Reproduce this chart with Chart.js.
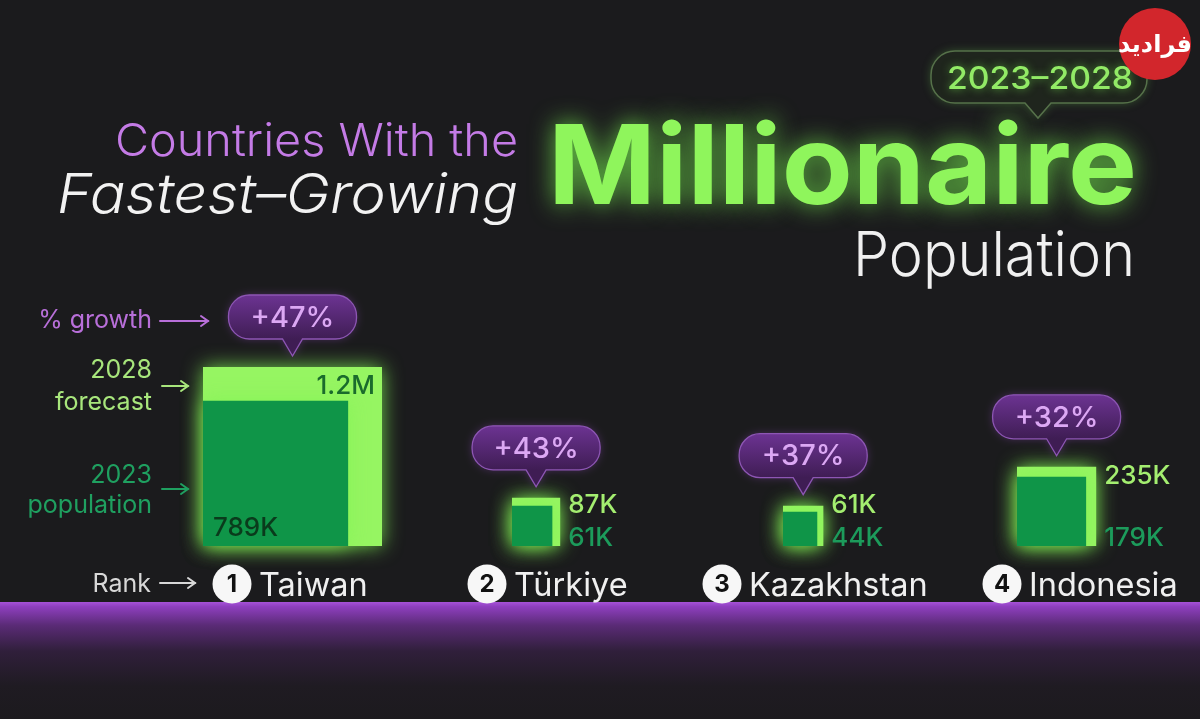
<!DOCTYPE html>
<html><head><meta charset="utf-8">
<script src="https://cdn.jsdelivr.net/npm/chart.js@4.4.1/dist/chart.umd.min.js"></script>
<style>
html,body{margin:0;padding:0;background:#1b1b1d;overflow:hidden}
#wrap{position:relative;width:1200px;height:719px}
canvas{display:block}
</style></head>
<body><div id="wrap"><canvas id="c" width="1200" height="719"></canvas></div>
<script>
// ---------- DATA ----------
const countries = ['Taiwan', 'Türkiye', 'Kazakhstan', 'Indonesia'];
const ranks = [1, 2, 3, 4];
const pop2023 = [789, 61, 44, 179];          // thousands of millionaires, 2023
const forecast2028 = [1200, 87, 61, 235];    // thousands, 2028 forecast
const growthPct = [47, 43, 37, 32];          // % growth 2023-2028
const label2023 = ['789K', '61K', '44K', '179K'];
const label2028 = ['1.2M', '87K', '61K', '235K'];

// ---------- LAYOUT (x-axis units) ----------
const squareLeft = [203, 512, 783, 1017];
const rankX = [232, 487, 722, 1002];
const SIDE_PER_SQRT = 179 / Math.sqrt(1200);   // square area proportional to value

const FONT = 'Inter, "Noto Sans", sans-serif';
const side = v => SIDE_PER_SQRT * Math.sqrt(v);
const squarePoly = (l, s) => [{x: l, y: 0}, {x: l, y: s}, {x: l + s, y: s}, {x: l + s, y: 0}, {x: l, y: 0}];

const datasets = [];
countries.forEach((c, i) => {
  datasets.push({
    label: c + ' 2028', data: squarePoly(squareLeft[i], side(forecast2028[i])),
    backgroundColor: '#96f562', borderColor: 'rgba(0,0,0,0)', borderWidth: 0,
    fill: 'shape', pointRadius: 0, tension: 0, order: 2, clip: false
  });
  datasets.push({
    label: c + ' 2023', data: squarePoly(squareLeft[i], side(pop2023[i])),
    backgroundColor: '#0f9548', borderColor: 'rgba(0,0,0,0)', borderWidth: 0,
    fill: 'shape', pointRadius: 0, tension: 0, order: 1, clip: false
  });
});

// ---------- helpers ----------
function fitText(ctx, text, x0, x1, baseline, font, color) {
  ctx.save();
  ctx.font = font;
  ctx.fillStyle = color;
  ctx.textBaseline = 'alphabetic';
  ctx.textAlign = 'left';
  const w = ctx.measureText(text).width;
  const sx = (x1 - x0) / w;
  ctx.translate(x0, baseline);
  ctx.scale(sx, 1);
  ctx.fillText(text, 0, 0);
  ctx.restore();
}
function text(ctx, t, x, y, font, color, align, base) {
  ctx.font = font; ctx.fillStyle = color;
  ctx.textAlign = align || 'left'; ctx.textBaseline = base || 'alphabetic';
  ctx.fillText(t, x, y);
}
function bubblePath(ctx, x0, y0, x1, y1, r, tipX, tipY, tw) {
  ctx.beginPath();
  ctx.moveTo(x0 + r, y0);
  ctx.lineTo(x1 - r, y0);
  ctx.arcTo(x1, y0, x1, y0 + r, r);
  ctx.lineTo(x1, y1 - r);
  ctx.arcTo(x1, y1, x1 - r, y1, r);
  ctx.lineTo(tipX + tw, y1);
  ctx.lineTo(tipX, tipY);
  ctx.lineTo(tipX - tw, y1);
  ctx.lineTo(x0 + r, y1);
  ctx.arcTo(x0, y1, x0, y1 - r, r);
  ctx.lineTo(x0, y0 + r);
  ctx.arcTo(x0, y0, x0 + r, y0, r);
  ctx.closePath();
}
function arrow(ctx, x1, x2, y, color) {
  ctx.save();
  ctx.strokeStyle = color; ctx.lineWidth = 2; ctx.lineCap = 'round';
  ctx.beginPath(); ctx.moveTo(x1, y); ctx.lineTo(x2, y); ctx.stroke();
  ctx.beginPath(); ctx.moveTo(x2 - 7, y - 5); ctx.lineTo(x2, y); ctx.lineTo(x2 - 7, y + 5); ctx.stroke();
  ctx.restore();
}

// ---------- plugins ----------
const bgPlugin = {
  id: 'bg',
  beforeDraw(chart) {
    const ctx = chart.ctx;
    ctx.save();
    ctx.fillStyle = '#1b1b1d';
    ctx.fillRect(0, 0, chart.width, chart.height);
    const g = ctx.createLinearGradient(0, 602, 0, 719);
    g.addColorStop(0, '#a652d8');
    g.addColorStop(0.04, '#8e3fbe');
    g.addColorStop(0.2, '#5a2b76');
    g.addColorStop(0.42, '#301f3b');
    g.addColorStop(0.72, '#1f1b22');
    g.addColorStop(1, '#1c1a1e');
    ctx.fillStyle = g;
    ctx.fillRect(0, 602, chart.width, 117);
    ctx.restore();
  }
};

// green neon glow around the squares
const glowPlugin = {
  id: 'glow',
  beforeDatasetsDraw(chart) {
    const ctx = chart.ctx;
    ctx.save();
    ctx.shadowColor = 'rgba(130,245,85,0.85)';
    ctx.shadowBlur = 20;
  },
  afterDatasetsDraw(chart) {
    chart.ctx.restore();
  }
};

const labelPlugin = {
  id: 'labels',
  afterDraw(chart) {
    const ctx = chart.ctx;
    const xs = chart.scales.x, ys = chart.scales.y;

    // ----- title -----
    fitText(ctx, 'Countries With the', 115, 518, 156, '300 45px ' + FONT, '#c47be6');
    fitText(ctx, 'Fastest\u2013Growing', 57, 518, 213, 'italic 300 55px ' + FONT, '#f2f2f2');
    ctx.save();
    ctx.shadowColor = 'rgba(120,240,80,0.8)'; ctx.shadowBlur = 24;
    fitText(ctx, 'Millionaire', 548, 1137, 204, '700 110px ' + FONT, '#8ff55c');
    ctx.restore();
    fitText(ctx, 'Population', 853, 1135, 276, '300 62px ' + FONT, '#f0f0f0');

    // ----- 2023–2028 bubble -----
    ctx.save();
    ctx.shadowColor = 'rgba(110,200,80,0.35)'; ctx.shadowBlur = 10;
    bubblePath(ctx, 931, 51, 1147, 103, 24, 1038, 118, 13);
    ctx.fillStyle = '#1f251d'; ctx.fill();
    ctx.shadowBlur = 0;
    ctx.strokeStyle = '#56714a'; ctx.lineWidth = 1.5; ctx.stroke();
    ctx.shadowColor = 'rgba(120,240,80,0.6)'; ctx.shadowBlur = 8;
    fitText(ctx, '2023\u20132028', 947, 1133, 89, '500 31px ' + FONT, '#92ea66');
    ctx.restore();

    // ----- legend annotations -----
    const aF = '400 25px ' + FONT;
    text(ctx, '% growth', 152, 328, aF, '#b86fd9', 'right');
    arrow(ctx, 160, 208, 321, '#b86fd9');
    text(ctx, '2028', 152, 378, aF, '#a8e67c', 'right');
    text(ctx, 'forecast', 152, 410, aF, '#a8e67c', 'right');
    arrow(ctx, 162, 188, 386, '#a8e67c');
    text(ctx, '2023', 152, 483, aF, '#1fa060', 'right');
    text(ctx, 'population', 152, 513, aF, '#1fa060', 'right');
    arrow(ctx, 162, 188, 489, '#1fa060');
    text(ctx, 'Rank', 151, 592, aF, '#d8d8d8', 'right');
    arrow(ctx, 160, 195, 583, '#d8d8d8');

    // ----- per-country marks -----
    countries.forEach((c, i) => {
      const l = squareLeft[i];
      const sF = side(forecast2028[i]);
      const px0 = xs.getPixelForValue(l);
      const px1 = xs.getPixelForValue(l + sF);
      const pTop = ys.getPixelForValue(sF);
      const pBot = ys.getPixelForValue(0);
      const cx = (px0 + px1) / 2;

      // growth bubble
      const tipY = pTop - 11, by1 = tipY - 17, by0 = by1 - 44;
      ctx.save();
      ctx.shadowColor = 'rgba(160,80,210,0.35)'; ctx.shadowBlur = 8;
      bubblePath(ctx, cx - 64, by0, cx + 64, by1, 21, cx, tipY, 10);
      const g = ctx.createLinearGradient(0, by0, 0, by1);
      g.addColorStop(0, '#6c3392'); g.addColorStop(1, '#3f1d54');
      ctx.fillStyle = g; ctx.fill();
      ctx.shadowBlur = 0;
      ctx.strokeStyle = '#8d56b4'; ctx.lineWidth = 1.3; ctx.stroke();
      text(ctx, '+' + growthPct[i] + '%', cx, (by0 + by1) / 2 + 1, '500 29px ' + FONT, '#dca8f4', 'center', 'middle');
      ctx.restore();

      // value labels
      const vF = '500 26px ' + FONT;
      if (px1 - px0 > 120) {
        text(ctx, label2028[i], px1 - 7, pTop + 27, vF, '#1a6b2c', 'right');
        text(ctx, label2023[i], px0 + 10, pBot - 10, vF, '#0a3b1c', 'left');
      } else {
        const b = Math.min(pTop + 17, pBot - 33);
        text(ctx, label2028[i], px1 + 8, b, vF, '#a4ee70', 'left');
        text(ctx, label2023[i], px1 + 8, pBot, vF, '#1c9b5b', 'left');
      }

      // rank circle + country name
      const rx = xs.getPixelForValue(rankX[i]);
      ctx.save();
      ctx.beginPath(); ctx.arc(rx, 584, 19.5, 0, Math.PI * 2);
      ctx.fillStyle = '#f7f7f7'; ctx.fill();
      text(ctx, String(ranks[i]), rx, 585, '700 24px ' + FONT, '#111111', 'center', 'middle');
      ctx.restore();
      text(ctx, c, rx + 27, 596, '400 32.5px ' + FONT, '#f0f0f0', 'left');
    });

    // ----- watermark logo -----
    ctx.save();
    ctx.beginPath(); ctx.arc(1155, 44, 36, 0, Math.PI * 2);
    ctx.fillStyle = '#d2262c'; ctx.fill();
    text(ctx, '\u0641\u0631\u0627\u062f\u06cc\u062f', 1155, 46, '700 24px "DejaVu Sans", sans-serif', '#ffffff', 'center', 'middle');
    ctx.restore();
  }
};

new Chart(document.getElementById('c'), {
  type: 'line',
  data: { datasets },
  options: {
    responsive: false,
    animation: false,
    events: [],
    layout: { padding: 0 },
    scales: {
      x: { type: 'linear', min: 0, max: 1200, display: false },
      y: { type: 'linear', min: -173, max: 546, display: false }
    },
    plugins: { legend: { display: false }, tooltip: { enabled: false } }
  },
  plugins: [bgPlugin, glowPlugin, labelPlugin]
});
</script>
</body></html>
